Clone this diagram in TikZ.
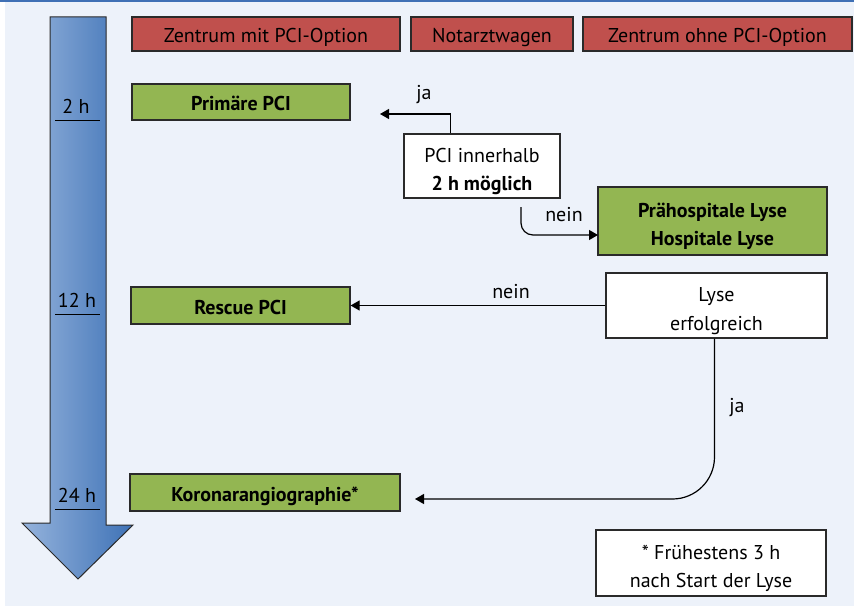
\documentclass[tikz,border=0pt]{standalone}
\usepackage{fontspec}
\setmainfont{PT Sans}
\usetikzlibrary{arrows.meta,calc}
\definecolor{bgc}{HTML}{EDF2FA}
\definecolor{topline}{HTML}{3F70B5}
\definecolor{redbox}{HTML}{C0504D}
\definecolor{greenbox}{HTML}{93B652}
\definecolor{edge}{HTML}{2A2A2A}
\definecolor{arrL}{HTML}{95B3DC}
\definecolor{arrR}{HTML}{3E72B6}
\newcommand{\firststrut}{\rule{0pt}{26pt}}
\tikzset{
  box/.style={draw=edge, line width=1.2pt, inner sep=0pt, align=center,
    font=\fontsize{20}{28.5}\selectfont, text=black,
    execute at begin node={\rule{0pt}{22pt}},
    execute at end node={\rule[-5pt]{0pt}{0pt}}},
  redb/.style={box, fill=redbox},
  greenb/.style={box, fill=greenbox, font=\fontsize{20}{28.5}\selectfont\bfseries},
  whiteb/.style={box, fill=white},
  lbl/.style={font=\fontsize{20}{24}\selectfont, inner sep=0pt},
  arr/.style={draw=black, line width=1.2pt, -{Triangle[length=9pt,width=10pt]}},
  tick/.style={draw=black, line width=1pt}
}
\begin{document}
\begin{tikzpicture}[x=1pt,y=-1pt]
\useasboundingbox (0,0) rectangle (854,607);
\fill[white] (0,0) rectangle (854,607);
\fill[bgc] (5,2) rectangle (854,606);
\fill[topline] (0,0) rectangle (854,2);

% time arrow
\path[draw=edge, line width=1pt, left color=arrL, right color=arrR]
  (50,17) -- (106,17) -- (106,525) -- (133,525) -- (78,579) -- (22,523) -- (50,523) -- cycle;
\node[lbl] (t2) at (76,106) {2 h};
\draw[tick] (55,121) -- (100,121);
\node[lbl] (t12) at (77,300) {12 h};
\draw[tick] (55,314) -- (100,314);
\node[lbl] (t24) at (77,495) {24 h};
\draw[tick] (55,509) -- (100,509);

% header
\node[redb, minimum width=268pt, minimum height=34pt] (h1) at (266,34) {Zentrum mit PCI-Option};
\node[redb, minimum width=162pt, minimum height=34pt] (h2) at (492,34) {Notarztwagen};
\node[redb, minimum width=269pt, minimum height=34pt] (h3) at (717.5,34) {Zentrum ohne PCI-Option};

% boxes
\node[greenb, minimum width=218pt, minimum height=36pt] (prim) at (241,102) {Primäre PCI};
\node[whiteb, minimum width=156pt, minimum height=64pt] (pci) at (482,166) {\firststrut PCI innerhalb\\\textbf{2 h möglich}};
\node[greenb, minimum width=229pt, minimum height=68pt] (lyse1) at (712.5,221) {\firststrut Prähospitale Lyse\\Hospitale Lyse};
\node[greenb, minimum width=219pt, minimum height=37pt] (resc) at (240.5,305.5) {Rescue PCI};
\node[whiteb, minimum width=221pt, minimum height=65pt] (erf) at (716.5,305.5) {\firststrut Lyse\\erfolgreich};
\node[greenb, minimum width=270pt, minimum height=37pt] (koro) at (265,492.5) {Koronarangiographie*};
\node[whiteb, minimum width=230pt, minimum height=66pt] (foot) at (711,563) {\firststrut * Frühestens 3 h\\nach Start der Lyse};

% connectors
\coordinate (jaend) at (380,114);
\draw[arr] ($(pci.north west)+(47,0)$) |- (jaend);
\node[lbl] (ja1) at (424,95) {ja};

\coordinate (neinstart) at (521,207);
\coordinate (neinend) at (598,235);
\draw[arr, rounded corners=12pt] (neinstart) |- (neinend);
\node[lbl] (nein1) at (564,215) {nein};

\draw[arr] (erf.west) -- (resc.east);
\node[lbl] (nein2) at (511,292) {nein};

\coordinate (jaend2) at (415,499);
\draw[arr, rounded corners=42pt] ($(erf.south)+(-2,0)$) |- (jaend2);
\node[lbl] (ja2) at (737,408) {ja};
\end{tikzpicture}
\end{document}
